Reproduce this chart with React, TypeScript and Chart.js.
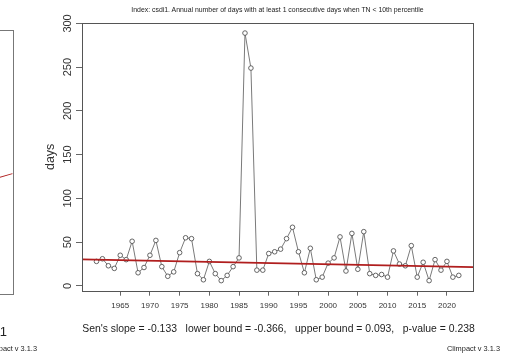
import React, { useEffect, useRef } from "react";
import { Chart, registerables } from "chart.js";

Chart.register(...registerables);

// ---- data ----
const years = [
  1961, 1962, 1963, 1964, 1965, 1966, 1967, 1968, 1969, 1970,
  1971, 1972, 1973, 1974, 1975, 1976, 1977, 1978, 1979, 1980,
  1981, 1982, 1983, 1984, 1985, 1986, 1987, 1988, 1989, 1990,
  1991, 1992, 1993, 1994, 1995, 1996, 1997, 1998, 1999, 2000,
  2001, 2002, 2003, 2004, 2005, 2006, 2007, 2008, 2009, 2010,
  2011, 2012, 2013, 2014, 2015, 2016, 2017, 2018, 2019, 2020,
  2021, 2022,
];
const csdiDays = [
  28, 31, 23, 20, 35, 30, 51, 15, 21, 35,
  52, 22, 11, 16, 38, 55, 54, 14, 7, 28,
  14, 6, 12, 22, 32, 289, 249, 18, 18, 37,
  39, 42, 54, 67, 39, 15, 43, 7, 10, 26,
  32, 56, 17, 60, 19, 62, 14, 12, 13, 10,
  40, 25, 23, 46, 10, 27, 6, 30, 18, 28,
  10, 12,
];
// Sen's slope trend line, value at the two ends of the x axis
const trendYears = [1958.56, 2024.44];
const trendDays = [30.2, 21.4];

const xTickValues = [1965, 1970, 1975, 1980, 1985, 1990, 1995, 2000, 2005, 2010, 2015, 2020];
const yTickValues = [0, 50, 100, 150, 200, 250, 300];

const titleText =
  "Index: csdi1. Annual number of days with at least 1 consecutive days when TN < 10th percentile";
const statsText =
  "Sen's slope = -0.133   lower bound = -0.366,   upper bound = 0.093,   p-value = 0.238";
const yAxisLabel = "days";
const versionText = "Climpact v 3.1.3";
const prevChartIndex = "csdi1";

const FONT = "'Liberation Sans', Arial, Helvetica, sans-serif";

export default function App() {
  const canvasRef = useRef<HTMLCanvasElement>(null);

  useEffect(() => {
    const canvas = canvasRef.current;
    if (!canvas) return;

    const boxPlugin = {
      id: "plotBox",
      afterDatasetsDraw(chart: any) {
        const { ctx, chartArea: a } = chart;
        ctx.save();
        ctx.strokeStyle = "#555";
        ctx.lineWidth = 1;
        ctx.strokeRect(
          Math.round(a.left) + 0.5,
          Math.round(a.top) + 0.5,
          Math.round(a.right - a.left),
          Math.round(a.bottom - a.top)
        );
        ctx.restore();
      },
    };

    const chart = new Chart(canvas, {
      type: "line",
      data: {
        datasets: [
          {
            label: "trend",
            data: trendYears.map((x, i) => ({ x, y: trendDays[i] })),
            borderColor: "#b01e1e",
            borderWidth: 1.8,
            pointRadius: 0,
            fill: false,
          },
          {
            label: "csdi1",
            data: years.map((x, i) => ({ x, y: csdiDays[i] })),
            borderColor: "#7a7a7a",
            borderWidth: 1,
            pointRadius: 2.3,
            pointBorderColor: "#555",
            pointBorderWidth: 0.9,
            pointBackgroundColor: "#ffffff",
            fill: false,
            tension: 0,
          },
        ],
      },
      options: {
        animation: false,
        responsive: false,
        devicePixelRatio: 1,
        events: [],
        layout: { padding: { left: 0, top: 23, right: 31.7, bottom: 37.3 } },
        plugins: {
          legend: { display: false },
          tooltip: { enabled: false },
          title: { display: false },
        },
        scales: {
          x: {
            type: "linear",
            min: 1958.56,
            max: 2024.44,
            afterBuildTicks: (s: any) => {
              s.ticks = xTickValues.map((v) => ({ value: v }));
            },
            afterFit: (s: any) => {
              s.height = 30;
            },
            grid: {
              display: true,
              drawOnChartArea: false,
              drawTicks: true,
              tickLength: 5,
              color: "#666",
            },
            border: { display: false },
            ticks: {
              color: "#333",
              font: { family: FONT, size: 8 },
              padding: 5,
              maxRotation: 0,
              minRotation: 0,
              autoSkip: false,
              callback: (v: any) => String(v),
            },
          },
          y: {
            type: "linear",
            min: -5.5,
            max: 300.5,
            afterBuildTicks: (s: any) => {
              s.ticks = yTickValues.map((v) => ({ value: v }));
            },
            afterFit: (s: any) => {
              s.width = 82;
            },
            grid: {
              display: true,
              drawOnChartArea: false,
              drawTicks: true,
              tickLength: 6,
              color: "#666",
            },
            border: { display: false },
            ticks: {
              color: "#333",
              font: { family: FONT, size: 11 },
              minRotation: 90,
              maxRotation: 90,
              crossAlign: "center",
              padding: -1.5,
              autoSkip: false,
              callback: (v: any) => String(v),
            },
            title: {
              display: true,
              text: yAxisLabel,
              color: "#333",
              font: { family: FONT, size: 12.5 },
              padding: { top: 43.5, bottom: 0 },
            },
          },
        },
      },
      plugins: [boxPlugin],
    } as any);

    return () => chart.destroy();
  }, []);

  const textBase: React.CSSProperties = {
    position: "absolute",
    fontFamily: FONT,
    color: "#222",
    whiteSpace: "pre",
    lineHeight: 1,
  };

  return (
    <div
      style={{
        position: "fixed",
        left: 0,
        top: 0,
        width: 505,
        height: 358,
        background: "#fff",
        overflow: "hidden",
      }}
    >
      <canvas
        ref={canvasRef}
        width={505}
        height={358}
        style={{ position: "absolute", left: 0, top: 0, width: 505, height: 358 }}
      />
      {/* fragment of the neighbouring chart on the left */}
      <div
        style={{
          position: "absolute",
          left: -20,
          top: 30,
          width: 31.5,
          height: 262.5,
          border: "1px solid #777",
        }}
      />
      <div
        style={{
          position: "absolute",
          left: -1,
          top: 177,
          width: 14,
          height: 0,
          borderTop: "1.6px solid #b01e1e",
          transform: "rotate(-16deg)",
          transformOrigin: "left center",
        }}
      />
      <div style={{ ...textBase, right: 498, top: 325, fontSize: 13 }}>{prevChartIndex}</div>
      <div style={{ ...textBase, right: 468, top: 345, fontSize: 7.4 }}>{versionText}</div>

      {/* main chart texts */}
      <div
        style={{
          ...textBase,
          left: 0,
          width: 555,
          textAlign: "center",
          top: 6.5,
          fontSize: 6.9,
        }}
      >
        {titleText}
      </div>
      <div
        style={{
          ...textBase,
          left: 0,
          width: 557,
          textAlign: "center",
          top: 323.5,
          fontSize: 10.4,
        }}
      >
        {statsText}
      </div>
      <div style={{ ...textBase, right: 5, top: 345, fontSize: 7.4 }}>{versionText}</div>
    </div>
  );
}
